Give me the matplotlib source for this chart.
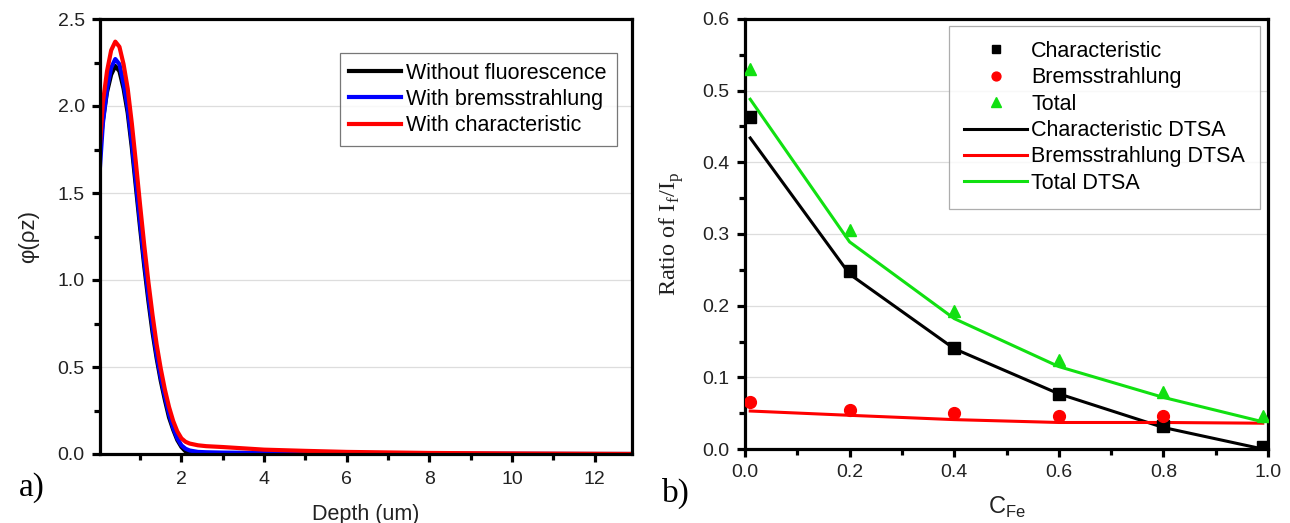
import matplotlib.pyplot as plt
import numpy as np
from matplotlib.ticker import MultipleLocator

plt.rcParams['font.family'] = ['Liberation Sans', 'DejaVu Sans']

# Panel a) phi(rho z) curves
depth = [0.03, 0.1, 0.2, 0.3, 0.4, 0.5, 0.6, 0.7, 0.8, 0.9, 1.0, 1.1, 1.2, 1.3, 1.4,
         1.5, 1.6, 1.7, 1.8, 1.9, 2.0, 2.1, 2.2, 2.4, 2.6, 3.0, 4.0, 5.0, 6.0, 8.0,
         10.0, 12.0, 12.9]
phi_none = [1.75, 1.92, 2.08, 2.18, 2.23, 2.20, 2.10, 1.96, 1.76, 1.53, 1.30, 1.08,
            0.88, 0.70, 0.55, 0.42, 0.31, 0.21, 0.14, 0.08, 0.04, 0.015, 0.005, 0.0,
            0.0, 0.0, 0.0, 0.0, 0.0, 0.0, 0.0, 0.0, 0.0]
phi_brems = [1.65, 1.90, 2.10, 2.22, 2.27, 2.24, 2.13, 1.99, 1.79, 1.56, 1.33, 1.11,
             0.91, 0.73, 0.57, 0.44, 0.33, 0.23, 0.15, 0.09, 0.05, 0.03, 0.02, 0.012,
             0.01, 0.008, 0.006, 0.004, 0.003, 0.002, 0.001, 0.0, 0.0]
phi_char = [1.78, 2.02, 2.20, 2.32, 2.37, 2.34, 2.24, 2.10, 1.90, 1.67, 1.43, 1.20,
            0.99, 0.80, 0.63, 0.49, 0.37, 0.27, 0.19, 0.13, 0.09, 0.07, 0.06, 0.05,
            0.045, 0.04, 0.025, 0.018, 0.012, 0.006, 0.003, 0.001, 0.0]

# Panel b) fluorescence ratios
c_fe = [0.01, 0.2, 0.4, 0.6, 0.8, 0.99]
char_pts = [0.463, 0.249, 0.141, 0.077, 0.032, 0.003]
brems_x = [0.01, 0.2, 0.4, 0.6, 0.8]
brems_pts = [0.065, 0.054, 0.050, 0.046, 0.046]
total_pts = [0.530, 0.306, 0.193, 0.124, 0.079, 0.046]
char_dtsa = [0.434, 0.244, 0.140, 0.077, 0.030, 0.0]
brems_dtsa = [0.053, 0.047, 0.041, 0.037, 0.037, 0.036]
total_dtsa = [0.488, 0.289, 0.182, 0.115, 0.072, 0.038]

GREEN = '#11e011'
W, H = 1290, 523
fig = plt.figure(figsize=(W / 100, H / 100), dpi=100)


def px_axes(x0, y0, x1, y1):
    return fig.add_axes([x0 / W, 1 - y1 / H, (x1 - x0) / W, (y1 - y0) / H])


def style(ax):
    for s in ax.spines.values():
        s.set_linewidth(2.3)
    ax.tick_params(which='major', direction='out', length=6, width=2.3,
                   labelsize=14, labelcolor='#222222', top=False, right=False, pad=5)
    ax.tick_params(which='minor', direction='out', length=4, width=2.3,
                   top=False, right=False)
    ax.grid(axis='y', color='#dddddd', linewidth=0.9)
    ax.set_axisbelow(True)


# ---- a) ----
ax1 = px_axes(100, 19, 632, 454)
ax1.plot(depth, phi_none, color='black', lw=3.0, label='Without fluorescence')
ax1.plot(depth, phi_brems, color='#0000ff', lw=3.0, label='With bremsstrahlung')
ax1.plot(depth, phi_char, color='#ff0000', lw=3.0, label='With characteristic')
ax1.set_xlim(0.03, 12.9)
ax1.set_ylim(0, 2.5)
ax1.xaxis.set_minor_locator(MultipleLocator(1))
ax1.yaxis.set_major_locator(MultipleLocator(0.5))
ax1.yaxis.set_minor_locator(MultipleLocator(0.25))
ax1.set_xticks([2, 4, 6, 8, 10, 12])
style(ax1)
ax1.tick_params(axis='x', which='major', pad=6)
ax1.set_xlabel('Depth (um)', fontsize=15.5, labelpad=12, color='#222222')
ax1.set_ylabel('\u03c6(\u03c1z)', fontsize=16, labelpad=13, color='#222222')
leg1 = ax1.legend(loc='upper right', bbox_to_anchor=(0.971, 0.922), fontsize=15.5,
                  frameon=True, fancybox=False, edgecolor='#555555',
                  handlelength=2.4, handletextpad=0.25, borderpad=0.45,
                  borderaxespad=0, labelspacing=0.25)
leg1.get_frame().set_linewidth(0.9)
fig.text(19 / W, 1 - 488 / H, 'a)', fontsize=24, family='Liberation Serif',
         va='center', ha='left')

# ---- b) ----
ax2 = px_axes(745, 19, 1268, 449)
ax2.plot(c_fe, char_pts, 's', color='black', ms=8, label='Characteristic', zorder=4)
ax2.plot(brems_x, brems_pts, 'o', color='#ff0000', ms=8.5, label='Bremsstrahlung', zorder=4)
ax2.plot(c_fe, total_pts, '^', color=GREEN, ms=9, label='Total', zorder=4)
ax2.plot(c_fe, char_dtsa, color='black', lw=2.2, label='Characteristic DTSA')
ax2.plot(c_fe, brems_dtsa, color='#ff0000', lw=2.2, label='Bremsstrahlung DTSA')
ax2.plot(c_fe, total_dtsa, color=GREEN, lw=2.2, label='Total DTSA')
ax2.set_xlim(0, 1.0)
ax2.set_ylim(0, 0.6)
ax2.xaxis.set_major_locator(MultipleLocator(0.2))
ax2.xaxis.set_minor_locator(MultipleLocator(0.1))
ax2.yaxis.set_major_locator(MultipleLocator(0.1))
ax2.yaxis.set_minor_locator(MultipleLocator(0.05))
style(ax2)
ax2.tick_params(axis='x', which='major', pad=5)
ax2.set_xlabel('C$_{\\mathregular{Fe}}$', fontsize=17, labelpad=10, color='#222222')
ax2.set_ylabel('Ratio of I$_{\\mathregular{f}}$/I$_{\\mathregular{p}}$', fontsize=17.5,
               family='Liberation Serif', labelpad=12, color='#222222')
leg2 = ax2.legend(loc='upper right', bbox_to_anchor=(0.985, 0.984), fontsize=15.5,
                  frameon=True, fancybox=False, edgecolor='#999999',
                  handlelength=2.9, handletextpad=0.2, borderpad=0.7,
                  borderaxespad=0, labelspacing=0.25, markerscale=0.75)
leg2.get_frame().set_linewidth(0.9)
fig.text(662 / W, 1 - 493 / H, 'b)', fontsize=24, family='Liberation Serif',
         va='center', ha='left')

fig.savefig('out.png', dpi=100)
